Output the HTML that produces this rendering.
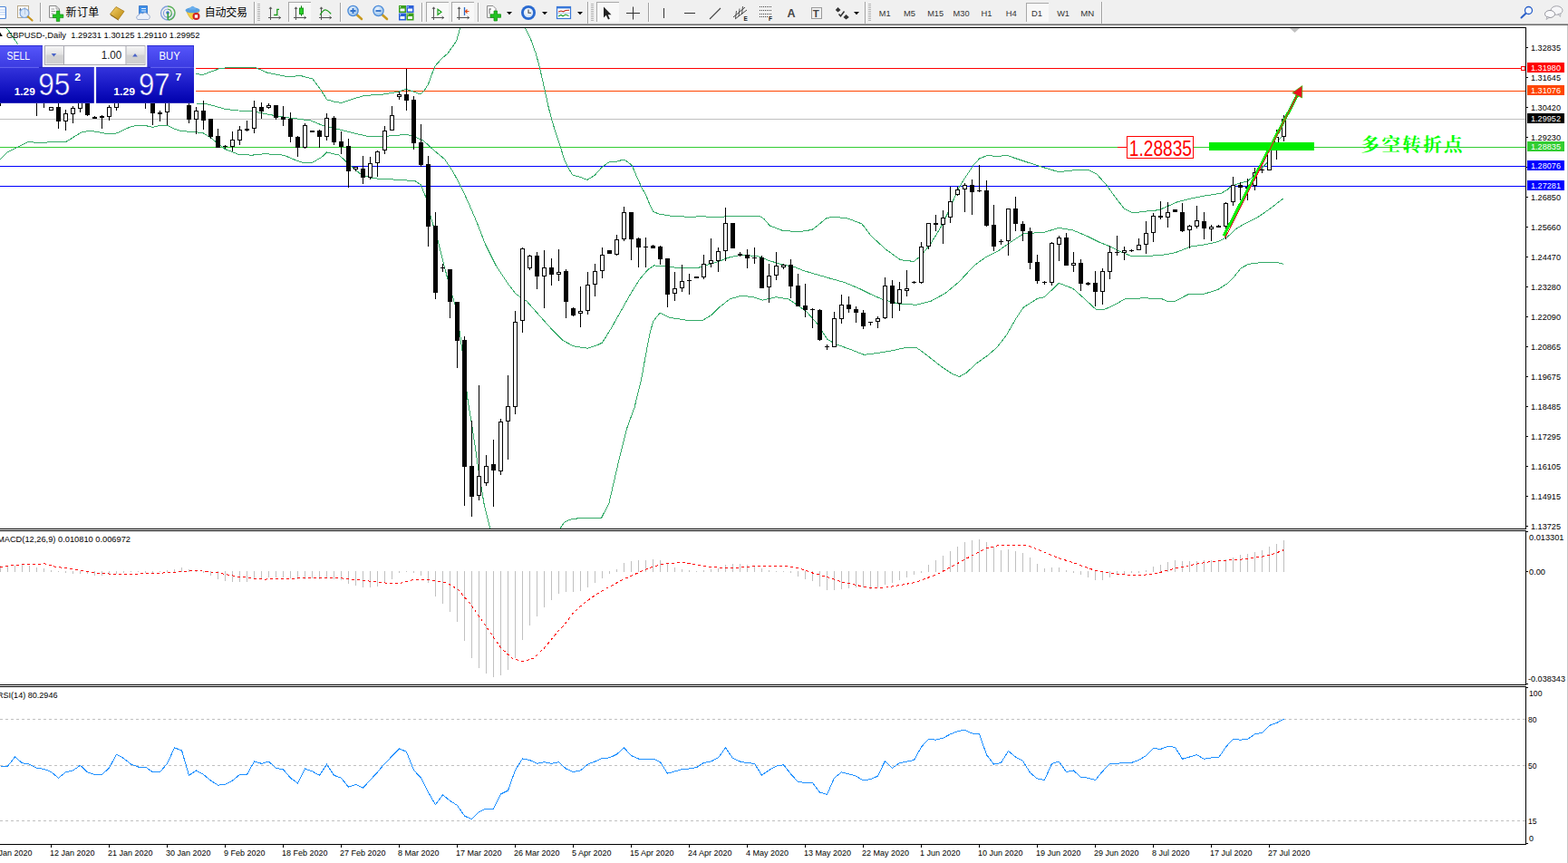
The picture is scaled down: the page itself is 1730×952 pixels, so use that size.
<!DOCTYPE html>
<html><head><meta charset="utf-8"><title>GBPUSD Daily</title>
<style>
html,body{margin:0;padding:0;background:#fff;}
body{width:1730px;height:952px;overflow:hidden;position:relative;font-family:"Liberation Sans",sans-serif;}
svg{position:absolute;left:0;top:0;display:block}
svg text{font-family:"Liberation Sans",sans-serif;white-space:pre}
.ce{shape-rendering:crispEdges}
</style></head><body>
<svg width="1730" height="952" viewBox="0 0 1730 952">
<defs>
<linearGradient id="gb1" x1="0" y1="0" x2="0" y2="1"><stop offset="0" stop-color="#5656fb"/><stop offset="1" stop-color="#3a3ae0"/></linearGradient>
<linearGradient id="gb2" x1="0" y1="0" x2="0" y2="1"><stop offset="0" stop-color="#3434dc"/><stop offset="0.55" stop-color="#1616c4"/><stop offset="1" stop-color="#0000ac"/></linearGradient>
<linearGradient id="gb2u" gradientUnits="userSpaceOnUse" x1="0" y1="74.4" x2="0" y2="113.8"><stop offset="0" stop-color="#3434dc"/><stop offset="0.55" stop-color="#1616c4"/><stop offset="1" stop-color="#0000ac"/></linearGradient>
<linearGradient id="gsp" x1="0" y1="0" x2="0" y2="1"><stop offset="0" stop-color="#f4f4f4"/><stop offset="0.45" stop-color="#e2e2e2"/><stop offset="0.5" stop-color="#d2d2d2"/><stop offset="1" stop-color="#cfcfcf"/></linearGradient>
<linearGradient id="gold" x1="0" y1="0" x2="1" y2="1"><stop offset="0" stop-color="#f6d26a"/><stop offset="1" stop-color="#b8860b"/></linearGradient>
<radialGradient id="lens" cx="0.4" cy="0.35" r="0.7"><stop offset="0" stop-color="#eef6ff"/><stop offset="1" stop-color="#8fbce8"/></radialGradient>
<radialGradient id="clk" cx="0.4" cy="0.35" r="0.7"><stop offset="0" stop-color="#ffffff"/><stop offset="1" stop-color="#cfe0f4"/></radialGradient>
</defs>
<rect width="1730" height="952" fill="#fff"/>

<g id="chart">
<g class="ce">
<rect x="0" y="75" width="1683" height="1" fill="#ff0000"/>
<rect x="0" y="100" width="1683" height="1" fill="#ff4500"/>
<rect x="0" y="131" width="1683" height="1" fill="#c0c0c0"/>
<rect x="0" y="162" width="1683" height="1" fill="#32cd32"/>
<rect x="0" y="183" width="1683" height="1" fill="#0000ff"/>
<rect x="0" y="205" width="1683" height="1" fill="#0000ff"/>
</g>
<polyline class="ce" fill="none" stroke="#34aa68" stroke-width="1" points="7.2,30.5 13,39 19.2,48 22,52"/>
<polyline class="ce" fill="none" stroke="#34aa68" stroke-width="1" points="216.4,81.5 224,82.5 233,79 242,75.8 252.5,74.5 282,74.5 294.5,80 306,82.5 317.6,84.6 332,83.6 345,87 353.4,98.3 360.7,109.8 368,112 376.5,113.4 390,109 401.7,105.6 412,104.8 422.7,104 432,102.5 440,101 448,98.2 456,101 464,104 468,100 472.4,93.2 476,83 480.3,72.6 487,65 493.5,59.4 499,52 503.8,44.7 507.6,31"/>
<polyline class="ce" fill="none" stroke="#34aa68" stroke-width="1" points="579.7,31 585.4,42.7 591.2,58.9 594.7,71.6 598.2,86.6 601.6,101.7 605.1,117.9 608.6,131.7 614.3,150.2 619,164.1 622.4,175.7 625.9,183.1 631.7,193 639.8,195.3 647.9,198.3 656,193.5 664,184.5 672.1,178.7 680.2,178.2 687.9,176.1 692.9,178.7 697.6,183.1 702.2,194.2 708,206.9 712.6,215 717.2,226.5 720.7,233.5 727.6,236.2 742.7,238.6 760,239.2 775.5,238.8 791.7,239.7 807.8,238.1 837.9,238.1 842.5,241.1 849.4,249 863.3,254.3 877.1,255.4 880,255.9 895.8,253.5 903,248 911.5,240.9 919.4,239.1 935.1,240.9 950.9,246.9 961.4,260.6 977.2,275 992.9,286.3 1000,287.8 1008.7,288.2 1016.6,281.6 1027,268.5 1037.6,251.4 1048,230.4 1056,210.7 1063.8,197.6 1074.3,181.8 1080.9,174.7 1090,171.3 1100,172.6 1110.5,171.3 1126.3,176.6 1142,181.8 1155.1,185.8 1168.3,189.7 1184,187.9 1199.8,187.1 1210.3,192.3 1220.8,204.1 1231.3,218.6 1240.5,230.4 1249.7,234.9 1265.4,233 1278.6,231.7 1289,227.2 1299.6,222.5 1315.3,218.8 1330.4,215.8 1347.2,213.3 1354,209.4 1359,204.9 1367.4,202.2 1375.8,200.2 1382.5,195.1 1388.2,189.2 1398.7,178.7 1402.9,164 1409.2,155.6 1416,149.3"/>
<polyline class="ce" fill="none" stroke="#34aa68" stroke-width="1" points="216.4,114 227,114.5 237,117 248,120.3 263,122 277.7,122.4 292.4,125.6 305,127.8 317.6,129.8 330,131.3 342.9,133 355.5,138.2 366,141 376.5,143.4 393.3,147.6 405.9,150.4 422.7,150.4 434.7,149.7 448,148.2 455.3,150 467,155 478.8,165.9 490.6,175.6 499.4,188.8 508.2,205 517,224 525.9,244.7 535.7,270 547.5,293.5 561,313.7 569.3,324.4 581,332.1 594.5,347.3 608,362.4 621.4,375.8 633,381.9 648.3,384.2 660,380.2 664.6,377.9 673.9,362.9 683.1,346.7 694.7,325.9 706.2,307.4 715.4,297 721.7,292.9 736.2,294.2 752.4,295.9 768.6,295.9 780.1,292.4 791.7,288.9 803.2,284.3 817.1,281.3 835.6,282.5 849.4,287.8 863.3,291.9 877.1,294.7 886,298.4 895.8,301.3 914.1,306.6 932.5,311.8 948.3,318.4 961.4,324.9 974.5,330.7 992.9,335.4 1011.3,336.2 1027,332.3 1042.8,323.6 1058.6,310.5 1074.3,293.4 1087.5,283.7 1100,277.7 1113,268.5 1128.9,258 1152.5,256.1 1168.3,251.4 1184,254 1199.8,260.6 1212.9,267.2 1226,272.4 1236.6,277.7 1247,282.1 1262.8,282.4 1281.2,281.6 1296.8,278.7 1313.6,272.1 1330.4,269.6 1343.9,266.6 1354,261.5 1364,252.3 1374,246.4 1387.6,239.7 1401,230.4 1415.8,219"/>
<polyline class="ce" fill="none" stroke="#34aa68" stroke-width="1" points="0,176.3 8.4,167.6 20,162 31,156.6 45,157.5 57,156.6 72,157 80.7,151.6 90.7,145.4 101,144.4 117.6,147.4 128.5,147 143,140.3 151,138.2 161,138.7 168.6,140.3 176.5,138.5 184.5,138.2 193,142.4 200,144.5 212.6,145.5 224,146.6 233.6,152.9 248.3,164.5 263,170.3 277.7,171.2 292.4,169.7 313.4,171.2 326,176.6 334.5,179.6 345,179.2 355.5,172.9 360.7,168 374.4,171.2 384.9,181.3 397.5,191.8 410,196.6 422.7,197.4 437.6,198.2 458,199.7 464,203.5 470,218 476,241.8 483,265 488,285 495.4,313.7 503.8,342.2 508,372 512.2,404.4 515.6,438 520.6,468.2 528,518.6 534,555.5 540.8,583"/>
<polyline class="ce" fill="none" stroke="#34aa68" stroke-width="1" points="618,583 623,575.7 631.5,572.3 648.3,571.3 663.4,571.6 671.8,555.5 681.9,511.8 692,471.5 700,449.7 707.4,419.5 712,394 716.6,369.8 720.5,354.8 728.1,345.1 738.5,350.2 757,353.2 775.5,353.2 784.7,347.8 794,338.6 805.5,329.8 817.1,326.4 830.9,327.5 841.3,331.2 856.4,327.7 870.2,330.1 879.4,336.3 890.5,344.6 901,356.4 912.8,374.3 922,379.6 937.8,385.3 953.5,391.4 969.3,389.3 985,386.6 1000.8,383.2 1011.3,383.5 1024.4,393.2 1037.6,403.7 1050.7,412.4 1058.6,415.5 1066.4,411.1 1077,401.1 1090,391.9 1100,383.2 1110.5,369.6 1121,351.2 1128.9,339.4 1144.6,329.4 1152.5,327.6 1168.3,312.3 1184,318.4 1197.2,330.2 1209,341.2 1216.9,342 1228.7,336.8 1241.8,329.4 1262.8,328.9 1281.2,329.4 1288.4,332.6 1296.8,332.1 1312,324.2 1328.7,324.2 1343.9,319.5 1354,312.8 1362.4,304.4 1369,296 1377.5,291.3 1391,289.6 1401,290 1409.4,289.6 1415.8,291.3"/>
<g class="ce" fill="#000">
<rect x="0" y="108" width="1" height="9"/>
<rect x="40" y="105" width="1" height="23"/>
<rect x="48" y="105" width="1" height="14"/>
<rect x="56" y="118" width="1" height="4"/>
<rect x="54" y="118" width="5" height="4"/>
<rect x="55" y="119" width="3" height="2" fill="#fff"/>
<rect x="64" y="108" width="1" height="34"/>
<rect x="62" y="118" width="5" height="16"/>
<rect x="72" y="121" width="1" height="23"/>
<rect x="70" y="125" width="5" height="9"/>
<rect x="71" y="126" width="3" height="7" fill="#fff"/>
<rect x="80" y="117" width="1" height="19"/>
<rect x="78" y="119" width="5" height="7"/>
<rect x="79" y="120" width="3" height="5" fill="#fff"/>
<rect x="88" y="106" width="1" height="18"/>
<rect x="86" y="106" width="5" height="14"/>
<rect x="87" y="107" width="3" height="12" fill="#fff"/>
<rect x="96" y="110" width="1" height="18"/>
<rect x="94" y="110" width="5" height="17"/>
<rect x="104" y="128" width="1" height="3"/>
<rect x="102" y="129" width="5" height="2"/>
<rect x="112" y="127" width="1" height="15"/>
<rect x="110" y="128" width="5" height="2"/>
<rect x="120" y="116" width="1" height="17"/>
<rect x="118" y="118" width="5" height="11"/>
<rect x="119" y="119" width="3" height="9" fill="#fff"/>
<rect x="128" y="106" width="1" height="16"/>
<rect x="126" y="106" width="5" height="13"/>
<rect x="127" y="107" width="3" height="11" fill="#fff"/>
<rect x="160" y="108" width="1" height="12"/>
<rect x="168" y="108" width="1" height="30"/>
<rect x="166" y="108" width="5" height="17"/>
<rect x="176" y="122" width="1" height="12"/>
<rect x="174" y="124" width="5" height="2"/>
<rect x="184" y="106" width="1" height="32"/>
<rect x="182" y="106" width="5" height="18"/>
<rect x="183" y="107" width="3" height="16" fill="#fff"/>
<rect x="208" y="112" width="1" height="24"/>
<rect x="206" y="116" width="5" height="16"/>
<rect x="216" y="118" width="1" height="30"/>
<rect x="214" y="122" width="5" height="10"/>
<rect x="215" y="123" width="3" height="8" fill="#fff"/>
<rect x="224" y="111" width="1" height="32"/>
<rect x="222" y="122" width="5" height="11"/>
<rect x="232" y="131" width="1" height="22"/>
<rect x="230" y="131" width="5" height="20"/>
<rect x="240" y="142" width="1" height="21"/>
<rect x="238" y="150" width="5" height="13"/>
<rect x="248" y="160" width="1" height="4"/>
<rect x="246" y="161" width="5" height="1"/>
<rect x="256" y="145" width="1" height="22"/>
<rect x="254" y="154" width="5" height="8"/>
<rect x="255" y="155" width="3" height="6" fill="#fff"/>
<rect x="264" y="139" width="1" height="21"/>
<rect x="262" y="143" width="5" height="12"/>
<rect x="263" y="144" width="3" height="10" fill="#fff"/>
<rect x="272" y="133" width="1" height="12"/>
<rect x="270" y="142" width="5" height="2"/>
<rect x="280" y="111" width="1" height="36"/>
<rect x="278" y="118" width="5" height="24"/>
<rect x="279" y="119" width="3" height="22" fill="#fff"/>
<rect x="288" y="113" width="1" height="18"/>
<rect x="286" y="118" width="5" height="5"/>
<rect x="296" y="114" width="1" height="6"/>
<rect x="294" y="116" width="5" height="3"/>
<rect x="295" y="117" width="3" height="1" fill="#fff"/>
<rect x="304" y="116" width="1" height="16"/>
<rect x="302" y="116" width="5" height="14"/>
<rect x="312" y="117" width="1" height="22"/>
<rect x="310" y="129" width="5" height="3"/>
<rect x="320" y="124" width="1" height="33"/>
<rect x="318" y="131" width="5" height="20"/>
<rect x="328" y="150" width="1" height="23"/>
<rect x="326" y="151" width="5" height="12"/>
<rect x="336" y="136" width="1" height="28"/>
<rect x="334" y="138" width="5" height="25"/>
<rect x="335" y="139" width="3" height="23" fill="#fff"/>
<rect x="344" y="144" width="1" height="2"/>
<rect x="342" y="144" width="5" height="2"/>
<rect x="352" y="143" width="1" height="20"/>
<rect x="350" y="144" width="5" height="7"/>
<rect x="360" y="125" width="1" height="30"/>
<rect x="358" y="130" width="5" height="21"/>
<rect x="359" y="131" width="3" height="19" fill="#fff"/>
<rect x="368" y="128" width="1" height="32"/>
<rect x="366" y="130" width="5" height="27"/>
<rect x="376" y="145" width="1" height="25"/>
<rect x="374" y="156" width="5" height="6"/>
<rect x="384" y="153" width="1" height="54"/>
<rect x="382" y="161" width="5" height="28"/>
<rect x="392" y="184" width="1" height="5"/>
<rect x="390" y="184" width="5" height="3"/>
<rect x="391" y="185" width="3" height="1" fill="#fff"/>
<rect x="400" y="172" width="1" height="31"/>
<rect x="398" y="186" width="5" height="10"/>
<rect x="408" y="173" width="1" height="25"/>
<rect x="406" y="180" width="5" height="16"/>
<rect x="407" y="181" width="3" height="14" fill="#fff"/>
<rect x="416" y="166" width="1" height="29"/>
<rect x="414" y="167" width="5" height="13"/>
<rect x="415" y="168" width="3" height="11" fill="#fff"/>
<rect x="424" y="139" width="1" height="31"/>
<rect x="422" y="144" width="5" height="22"/>
<rect x="423" y="145" width="3" height="20" fill="#fff"/>
<rect x="432" y="117" width="1" height="27"/>
<rect x="430" y="127" width="5" height="17"/>
<rect x="431" y="128" width="3" height="15" fill="#fff"/>
<rect x="440" y="101" width="1" height="9"/>
<rect x="438" y="104" width="5" height="3"/>
<rect x="439" y="105" width="3" height="1" fill="#fff"/>
<rect x="448" y="76" width="1" height="46"/>
<rect x="446" y="104" width="5" height="7"/>
<rect x="456" y="106" width="1" height="59"/>
<rect x="454" y="110" width="5" height="48"/>
<rect x="464" y="137" width="1" height="47"/>
<rect x="462" y="157" width="5" height="25"/>
<rect x="472" y="172" width="1" height="100"/>
<rect x="470" y="181" width="5" height="69"/>
<rect x="480" y="234" width="1" height="96"/>
<rect x="478" y="249" width="5" height="74"/>
<rect x="488" y="291" width="1" height="9"/>
<rect x="486" y="295" width="5" height="1"/>
<rect x="496" y="297" width="1" height="54"/>
<rect x="494" y="297" width="5" height="36"/>
<rect x="504" y="333" width="1" height="73"/>
<rect x="502" y="333" width="5" height="43"/>
<rect x="512" y="371" width="1" height="187"/>
<rect x="510" y="375" width="5" height="140"/>
<rect x="520" y="464" width="1" height="106"/>
<rect x="518" y="514" width="5" height="34"/>
<rect x="528" y="425" width="1" height="127"/>
<rect x="526" y="525" width="5" height="22"/>
<rect x="527" y="526" width="3" height="20" fill="#fff"/>
<rect x="536" y="502" width="1" height="34"/>
<rect x="534" y="514" width="5" height="19"/>
<rect x="535" y="515" width="3" height="17" fill="#fff"/>
<rect x="544" y="485" width="1" height="74"/>
<rect x="542" y="512" width="5" height="7"/>
<rect x="552" y="462" width="1" height="62"/>
<rect x="550" y="465" width="5" height="55"/>
<rect x="551" y="466" width="3" height="53" fill="#fff"/>
<rect x="560" y="414" width="1" height="93"/>
<rect x="558" y="448" width="5" height="17"/>
<rect x="559" y="449" width="3" height="15" fill="#fff"/>
<rect x="568" y="343" width="1" height="114"/>
<rect x="566" y="355" width="5" height="94"/>
<rect x="567" y="356" width="3" height="92" fill="#fff"/>
<rect x="576" y="273" width="1" height="94"/>
<rect x="574" y="274" width="5" height="80"/>
<rect x="575" y="275" width="3" height="78" fill="#fff"/>
<rect x="584" y="281" width="1" height="17"/>
<rect x="582" y="282" width="5" height="14"/>
<rect x="583" y="283" width="3" height="12" fill="#fff"/>
<rect x="592" y="278" width="1" height="41"/>
<rect x="590" y="282" width="5" height="23"/>
<rect x="600" y="276" width="1" height="64"/>
<rect x="598" y="295" width="5" height="10"/>
<rect x="599" y="296" width="3" height="8" fill="#fff"/>
<rect x="608" y="285" width="1" height="30"/>
<rect x="606" y="295" width="5" height="8"/>
<rect x="616" y="275" width="1" height="35"/>
<rect x="614" y="300" width="5" height="3"/>
<rect x="615" y="301" width="3" height="1" fill="#fff"/>
<rect x="624" y="297" width="1" height="54"/>
<rect x="622" y="299" width="5" height="34"/>
<rect x="632" y="339" width="1" height="10"/>
<rect x="630" y="340" width="5" height="8"/>
<rect x="640" y="316" width="1" height="45"/>
<rect x="638" y="343" width="5" height="3"/>
<rect x="639" y="344" width="3" height="1" fill="#fff"/>
<rect x="648" y="300" width="1" height="47"/>
<rect x="646" y="314" width="5" height="29"/>
<rect x="647" y="315" width="3" height="27" fill="#fff"/>
<rect x="656" y="291" width="1" height="36"/>
<rect x="654" y="299" width="5" height="15"/>
<rect x="655" y="300" width="3" height="13" fill="#fff"/>
<rect x="664" y="273" width="1" height="34"/>
<rect x="662" y="281" width="5" height="18"/>
<rect x="663" y="282" width="3" height="16" fill="#fff"/>
<rect x="672" y="276" width="1" height="4"/>
<rect x="670" y="276" width="5" height="4"/>
<rect x="680" y="259" width="1" height="23"/>
<rect x="678" y="264" width="5" height="17"/>
<rect x="679" y="265" width="3" height="15" fill="#fff"/>
<rect x="688" y="228" width="1" height="38"/>
<rect x="686" y="234" width="5" height="30"/>
<rect x="687" y="235" width="3" height="28" fill="#fff"/>
<rect x="696" y="234" width="1" height="53"/>
<rect x="694" y="234" width="5" height="30"/>
<rect x="704" y="262" width="1" height="33"/>
<rect x="702" y="263" width="5" height="10"/>
<rect x="712" y="262" width="1" height="33"/>
<rect x="710" y="272" width="5" height="1"/>
<rect x="720" y="270" width="1" height="4"/>
<rect x="718" y="271" width="5" height="3"/>
<rect x="728" y="271" width="1" height="21"/>
<rect x="726" y="272" width="5" height="14"/>
<rect x="736" y="285" width="1" height="54"/>
<rect x="734" y="285" width="5" height="40"/>
<rect x="744" y="300" width="1" height="32"/>
<rect x="742" y="318" width="5" height="6"/>
<rect x="743" y="319" width="3" height="4" fill="#fff"/>
<rect x="752" y="292" width="1" height="30"/>
<rect x="750" y="310" width="5" height="8"/>
<rect x="751" y="311" width="3" height="6" fill="#fff"/>
<rect x="760" y="302" width="1" height="23"/>
<rect x="758" y="309" width="5" height="1"/>
<rect x="768" y="305" width="1" height="2"/>
<rect x="766" y="305" width="5" height="2"/>
<rect x="776" y="281" width="1" height="27"/>
<rect x="774" y="291" width="5" height="15"/>
<rect x="775" y="292" width="3" height="13" fill="#fff"/>
<rect x="784" y="263" width="1" height="32"/>
<rect x="782" y="287" width="5" height="4"/>
<rect x="783" y="288" width="3" height="2" fill="#fff"/>
<rect x="792" y="273" width="1" height="27"/>
<rect x="790" y="277" width="5" height="11"/>
<rect x="791" y="278" width="3" height="9" fill="#fff"/>
<rect x="800" y="229" width="1" height="59"/>
<rect x="798" y="246" width="5" height="31"/>
<rect x="799" y="247" width="3" height="29" fill="#fff"/>
<rect x="808" y="246" width="1" height="28"/>
<rect x="806" y="246" width="5" height="28"/>
<rect x="816" y="278" width="1" height="5"/>
<rect x="814" y="280" width="5" height="2"/>
<rect x="824" y="275" width="1" height="21"/>
<rect x="822" y="281" width="5" height="4"/>
<rect x="832" y="273" width="1" height="18"/>
<rect x="830" y="284" width="5" height="1"/>
<rect x="840" y="282" width="1" height="36"/>
<rect x="838" y="284" width="5" height="34"/>
<rect x="848" y="291" width="1" height="43"/>
<rect x="846" y="304" width="5" height="13"/>
<rect x="847" y="305" width="3" height="11" fill="#fff"/>
<rect x="856" y="278" width="1" height="31"/>
<rect x="854" y="293" width="5" height="11"/>
<rect x="855" y="294" width="3" height="9" fill="#fff"/>
<rect x="864" y="291" width="1" height="6"/>
<rect x="862" y="292" width="5" height="3"/>
<rect x="863" y="293" width="3" height="1" fill="#fff"/>
<rect x="872" y="286" width="1" height="43"/>
<rect x="870" y="292" width="5" height="24"/>
<rect x="880" y="302" width="1" height="36"/>
<rect x="878" y="315" width="5" height="23"/>
<rect x="888" y="313" width="1" height="37"/>
<rect x="886" y="337" width="5" height="5"/>
<rect x="896" y="340" width="1" height="22"/>
<rect x="894" y="341" width="5" height="1"/>
<rect x="904" y="341" width="1" height="35"/>
<rect x="902" y="342" width="5" height="33"/>
<rect x="912" y="380" width="1" height="6"/>
<rect x="910" y="382" width="5" height="1"/>
<rect x="920" y="344" width="1" height="39"/>
<rect x="918" y="351" width="5" height="32"/>
<rect x="919" y="352" width="3" height="30" fill="#fff"/>
<rect x="928" y="325" width="1" height="32"/>
<rect x="926" y="336" width="5" height="16"/>
<rect x="927" y="337" width="3" height="14" fill="#fff"/>
<rect x="936" y="327" width="1" height="18"/>
<rect x="934" y="336" width="5" height="5"/>
<rect x="944" y="338" width="1" height="18"/>
<rect x="942" y="341" width="5" height="4"/>
<rect x="952" y="342" width="1" height="21"/>
<rect x="950" y="345" width="5" height="15"/>
<rect x="960" y="355" width="1" height="4"/>
<rect x="958" y="355" width="5" height="1"/>
<rect x="968" y="349" width="1" height="13"/>
<rect x="966" y="351" width="5" height="4"/>
<rect x="967" y="352" width="3" height="2" fill="#fff"/>
<rect x="976" y="306" width="1" height="46"/>
<rect x="974" y="315" width="5" height="36"/>
<rect x="975" y="316" width="3" height="34" fill="#fff"/>
<rect x="984" y="309" width="1" height="42"/>
<rect x="982" y="315" width="5" height="20"/>
<rect x="992" y="311" width="1" height="32"/>
<rect x="990" y="319" width="5" height="16"/>
<rect x="991" y="320" width="3" height="14" fill="#fff"/>
<rect x="1000" y="298" width="1" height="29"/>
<rect x="998" y="318" width="5" height="3"/>
<rect x="999" y="319" width="3" height="1" fill="#fff"/>
<rect x="1008" y="310" width="1" height="3"/>
<rect x="1006" y="311" width="5" height="1"/>
<rect x="1016" y="267" width="1" height="46"/>
<rect x="1014" y="272" width="5" height="40"/>
<rect x="1015" y="273" width="3" height="38" fill="#fff"/>
<rect x="1024" y="246" width="1" height="29"/>
<rect x="1022" y="246" width="5" height="26"/>
<rect x="1023" y="247" width="3" height="24" fill="#fff"/>
<rect x="1032" y="237" width="1" height="18"/>
<rect x="1030" y="246" width="5" height="2"/>
<rect x="1040" y="232" width="1" height="37"/>
<rect x="1038" y="240" width="5" height="8"/>
<rect x="1039" y="241" width="3" height="6" fill="#fff"/>
<rect x="1048" y="206" width="1" height="40"/>
<rect x="1046" y="222" width="5" height="18"/>
<rect x="1047" y="223" width="3" height="16" fill="#fff"/>
<rect x="1056" y="206" width="1" height="10"/>
<rect x="1054" y="209" width="5" height="6"/>
<rect x="1055" y="210" width="3" height="4" fill="#fff"/>
<rect x="1064" y="202" width="1" height="32"/>
<rect x="1062" y="204" width="5" height="5"/>
<rect x="1063" y="205" width="3" height="3" fill="#fff"/>
<rect x="1072" y="198" width="1" height="39"/>
<rect x="1070" y="204" width="5" height="8"/>
<rect x="1080" y="182" width="1" height="30"/>
<rect x="1078" y="210" width="5" height="1"/>
<rect x="1088" y="199" width="1" height="51"/>
<rect x="1086" y="210" width="5" height="39"/>
<rect x="1096" y="226" width="1" height="51"/>
<rect x="1094" y="248" width="5" height="24"/>
<rect x="1104" y="264" width="1" height="6"/>
<rect x="1102" y="266" width="5" height="1"/>
<rect x="1112" y="230" width="1" height="52"/>
<rect x="1110" y="230" width="5" height="36"/>
<rect x="1111" y="231" width="3" height="34" fill="#fff"/>
<rect x="1120" y="217" width="1" height="38"/>
<rect x="1118" y="230" width="5" height="17"/>
<rect x="1128" y="244" width="1" height="22"/>
<rect x="1126" y="247" width="5" height="8"/>
<rect x="1136" y="251" width="1" height="46"/>
<rect x="1134" y="255" width="5" height="35"/>
<rect x="1144" y="281" width="1" height="32"/>
<rect x="1142" y="289" width="5" height="21"/>
<rect x="1152" y="310" width="1" height="4"/>
<rect x="1150" y="311" width="5" height="1"/>
<rect x="1160" y="267" width="1" height="48"/>
<rect x="1158" y="268" width="5" height="44"/>
<rect x="1159" y="269" width="3" height="42" fill="#fff"/>
<rect x="1168" y="260" width="1" height="28"/>
<rect x="1166" y="262" width="5" height="8"/>
<rect x="1167" y="263" width="3" height="6" fill="#fff"/>
<rect x="1176" y="257" width="1" height="36"/>
<rect x="1174" y="262" width="5" height="31"/>
<rect x="1184" y="278" width="1" height="22"/>
<rect x="1182" y="290" width="5" height="3"/>
<rect x="1183" y="291" width="3" height="1" fill="#fff"/>
<rect x="1192" y="286" width="1" height="35"/>
<rect x="1190" y="290" width="5" height="23"/>
<rect x="1200" y="311" width="1" height="4"/>
<rect x="1198" y="312" width="5" height="2"/>
<rect x="1208" y="299" width="1" height="39"/>
<rect x="1206" y="312" width="5" height="10"/>
<rect x="1216" y="296" width="1" height="40"/>
<rect x="1214" y="299" width="5" height="23"/>
<rect x="1215" y="300" width="3" height="21" fill="#fff"/>
<rect x="1224" y="271" width="1" height="37"/>
<rect x="1222" y="278" width="5" height="22"/>
<rect x="1223" y="279" width="3" height="20" fill="#fff"/>
<rect x="1232" y="260" width="1" height="22"/>
<rect x="1230" y="278" width="5" height="1"/>
<rect x="1240" y="272" width="1" height="15"/>
<rect x="1238" y="276" width="5" height="3"/>
<rect x="1239" y="277" width="3" height="1" fill="#fff"/>
<rect x="1248" y="275" width="1" height="3"/>
<rect x="1246" y="276" width="5" height="1"/>
<rect x="1256" y="263" width="1" height="13"/>
<rect x="1254" y="270" width="5" height="6"/>
<rect x="1255" y="271" width="3" height="4" fill="#fff"/>
<rect x="1264" y="244" width="1" height="36"/>
<rect x="1262" y="257" width="5" height="13"/>
<rect x="1263" y="258" width="3" height="11" fill="#fff"/>
<rect x="1272" y="235" width="1" height="32"/>
<rect x="1270" y="238" width="5" height="19"/>
<rect x="1271" y="239" width="3" height="17" fill="#fff"/>
<rect x="1280" y="222" width="1" height="20"/>
<rect x="1278" y="238" width="5" height="2"/>
<rect x="1288" y="223" width="1" height="28"/>
<rect x="1286" y="234" width="5" height="6"/>
<rect x="1287" y="235" width="3" height="4" fill="#fff"/>
<rect x="1296" y="231" width="1" height="3"/>
<rect x="1294" y="231" width="5" height="3"/>
<rect x="1304" y="224" width="1" height="32"/>
<rect x="1302" y="234" width="5" height="21"/>
<rect x="1312" y="248" width="1" height="26"/>
<rect x="1310" y="249" width="5" height="5"/>
<rect x="1311" y="250" width="3" height="3" fill="#fff"/>
<rect x="1320" y="227" width="1" height="25"/>
<rect x="1318" y="243" width="5" height="7"/>
<rect x="1319" y="244" width="3" height="5" fill="#fff"/>
<rect x="1328" y="234" width="1" height="30"/>
<rect x="1326" y="244" width="5" height="8"/>
<rect x="1336" y="248" width="1" height="18"/>
<rect x="1334" y="250" width="5" height="3"/>
<rect x="1335" y="251" width="3" height="1" fill="#fff"/>
<rect x="1344" y="248" width="1" height="3"/>
<rect x="1342" y="249" width="5" height="2"/>
<rect x="1352" y="223" width="1" height="41"/>
<rect x="1350" y="224" width="5" height="26"/>
<rect x="1351" y="225" width="3" height="24" fill="#fff"/>
<rect x="1360" y="195" width="1" height="32"/>
<rect x="1358" y="204" width="5" height="19"/>
<rect x="1359" y="205" width="3" height="17" fill="#fff"/>
<rect x="1368" y="201" width="1" height="20"/>
<rect x="1366" y="204" width="5" height="3"/>
<rect x="1376" y="197" width="1" height="24"/>
<rect x="1374" y="206" width="5" height="2"/>
<rect x="1384" y="185" width="1" height="25"/>
<rect x="1382" y="190" width="5" height="15"/>
<rect x="1383" y="191" width="3" height="13" fill="#fff"/>
<rect x="1392" y="186" width="1" height="5"/>
<rect x="1390" y="187" width="5" height="1"/>
<rect x="1400" y="163" width="1" height="25"/>
<rect x="1398" y="164" width="5" height="24"/>
<rect x="1399" y="165" width="3" height="22" fill="#fff"/>
<rect x="1408" y="143" width="1" height="33"/>
<rect x="1406" y="151" width="5" height="14"/>
<rect x="1407" y="152" width="3" height="12" fill="#fff"/>
<rect x="1416" y="127" width="1" height="29"/>
<rect x="1414" y="131" width="5" height="20"/>
<rect x="1415" y="132" width="3" height="18" fill="#fff"/>
</g>
<rect class="ce" x="1334" y="157" width="116" height="9" fill="#00ee00"/>
<line class="ce" x1="1350.2" y1="260" x2="1431.2" y2="105.6" stroke="#00f000" stroke-width="3.2"/>
<line class="ce" x1="1351.6" y1="262.4" x2="1431.4" y2="104.8" stroke="#f01020" stroke-width="1"/>
<polygon points="1436.8,94.6 1425.8,102.4 1436.6,108" fill="#ec1020" stroke="#30c000" stroke-width="0.7"/>
<rect class="ce" x="1233" y="162" width="10" height="1" fill="#ff0000"/>
<rect x="1243.5" y="150.5" width="73" height="24" fill="#fff" stroke="#ff0000" stroke-width="1"/>
<text x="1245.8" y="171.7" font-size="23.4" fill="#ff0000" textLength="69.2" lengthAdjust="spacingAndGlyphs">1.28835</text>
<text x="1501.5" y="167.3" font-size="20.5" font-weight="bold" fill="#00ff00" textLength="112" lengthAdjust="spacing" style="font-family:'Liberation Serif','Noto Serif CJK SC',serif">多空转折点</text>
<polygon points="1423,31 1434,31 1428.5,36" fill="#c0c0c0"/>
<rect x="1678.5" y="73.5" width="4" height="4" fill="#fff" stroke="#ff0000" stroke-width="1" class="ce"/>
</g>
<g class="ce" fill="#c0c0c0">
<rect x="0" y="624" width="1" height="7"/>
<rect x="8" y="624" width="1" height="7"/>
<rect x="16" y="624" width="1" height="7"/>
<rect x="24" y="623" width="1" height="8"/>
<rect x="32" y="624" width="1" height="7"/>
<rect x="40" y="626" width="1" height="5"/>
<rect x="48" y="627" width="1" height="4"/>
<rect x="56" y="629" width="1" height="2"/>
<rect x="64" y="630" width="1" height="1"/>
<rect x="72" y="630" width="1" height="2"/>
<rect x="80" y="630" width="1" height="3"/>
<rect x="88" y="630" width="1" height="3"/>
<rect x="96" y="630" width="1" height="3"/>
<rect x="104" y="630" width="1" height="5"/>
<rect x="112" y="630" width="1" height="5"/>
<rect x="120" y="630" width="1" height="4"/>
<rect x="128" y="630" width="1" height="3"/>
<rect x="136" y="630" width="1" height="2"/>
<rect x="144" y="630" width="1" height="1"/>
<rect x="152" y="630" width="1" height="1"/>
<rect x="160" y="630" width="1" height="2"/>
<rect x="168" y="630" width="1" height="2"/>
<rect x="176" y="630" width="1" height="1"/>
<rect x="184" y="629" width="1" height="2"/>
<rect x="192" y="628" width="1" height="3"/>
<rect x="200" y="626" width="1" height="5"/>
<rect x="208" y="628" width="1" height="3"/>
<rect x="216" y="629" width="1" height="2"/>
<rect x="224" y="630" width="1" height="2"/>
<rect x="232" y="630" width="1" height="5"/>
<rect x="240" y="630" width="1" height="9"/>
<rect x="248" y="630" width="1" height="11"/>
<rect x="256" y="630" width="1" height="12"/>
<rect x="264" y="630" width="1" height="12"/>
<rect x="272" y="630" width="1" height="12"/>
<rect x="280" y="630" width="1" height="9"/>
<rect x="288" y="630" width="1" height="8"/>
<rect x="296" y="630" width="1" height="7"/>
<rect x="304" y="630" width="1" height="7"/>
<rect x="312" y="630" width="1" height="7"/>
<rect x="320" y="630" width="1" height="8"/>
<rect x="328" y="630" width="1" height="9"/>
<rect x="336" y="630" width="1" height="9"/>
<rect x="344" y="630" width="1" height="8"/>
<rect x="352" y="630" width="1" height="9"/>
<rect x="360" y="630" width="1" height="8"/>
<rect x="368" y="630" width="1" height="9"/>
<rect x="376" y="630" width="1" height="10"/>
<rect x="384" y="630" width="1" height="14"/>
<rect x="392" y="630" width="1" height="16"/>
<rect x="400" y="630" width="1" height="18"/>
<rect x="408" y="630" width="1" height="18"/>
<rect x="416" y="630" width="1" height="17"/>
<rect x="424" y="630" width="1" height="13"/>
<rect x="432" y="630" width="1" height="9"/>
<rect x="440" y="630" width="1" height="2"/>
<rect x="448" y="630" width="1" height="1"/>
<rect x="456" y="630" width="1" height="2"/>
<rect x="464" y="630" width="1" height="5"/>
<rect x="472" y="630" width="1" height="13"/>
<rect x="480" y="630" width="1" height="28"/>
<rect x="488" y="630" width="1" height="36"/>
<rect x="496" y="630" width="1" height="45"/>
<rect x="504" y="630" width="1" height="56"/>
<rect x="512" y="630" width="1" height="77"/>
<rect x="520" y="630" width="1" height="96"/>
<rect x="528" y="630" width="1" height="107"/>
<rect x="536" y="630" width="1" height="113"/>
<rect x="544" y="630" width="1" height="117"/>
<rect x="552" y="630" width="1" height="115"/>
<rect x="560" y="630" width="1" height="109"/>
<rect x="568" y="630" width="1" height="96"/>
<rect x="576" y="630" width="1" height="76"/>
<rect x="584" y="630" width="1" height="60"/>
<rect x="592" y="630" width="1" height="50"/>
<rect x="600" y="630" width="1" height="40"/>
<rect x="608" y="630" width="1" height="32"/>
<rect x="616" y="630" width="1" height="25"/>
<rect x="624" y="630" width="1" height="23"/>
<rect x="632" y="630" width="1" height="23"/>
<rect x="640" y="630" width="1" height="22"/>
<rect x="648" y="630" width="1" height="18"/>
<rect x="656" y="630" width="1" height="13"/>
<rect x="664" y="630" width="1" height="8"/>
<rect x="672" y="630" width="1" height="3"/>
<rect x="680" y="628" width="1" height="3"/>
<rect x="688" y="621" width="1" height="10"/>
<rect x="696" y="619" width="1" height="12"/>
<rect x="704" y="618" width="1" height="13"/>
<rect x="712" y="618" width="1" height="13"/>
<rect x="720" y="617" width="1" height="14"/>
<rect x="728" y="618" width="1" height="13"/>
<rect x="736" y="622" width="1" height="9"/>
<rect x="744" y="626" width="1" height="5"/>
<rect x="752" y="628" width="1" height="3"/>
<rect x="760" y="629" width="1" height="2"/>
<rect x="768" y="630" width="1" height="1"/>
<rect x="776" y="629" width="1" height="2"/>
<rect x="784" y="628" width="1" height="3"/>
<rect x="792" y="627" width="1" height="4"/>
<rect x="800" y="623" width="1" height="8"/>
<rect x="808" y="622" width="1" height="9"/>
<rect x="816" y="622" width="1" height="9"/>
<rect x="824" y="623" width="1" height="8"/>
<rect x="832" y="624" width="1" height="7"/>
<rect x="840" y="627" width="1" height="4"/>
<rect x="848" y="629" width="1" height="2"/>
<rect x="856" y="630" width="1" height="1"/>
<rect x="864" y="630" width="1" height="1"/>
<rect x="872" y="630" width="1" height="2"/>
<rect x="880" y="630" width="1" height="6"/>
<rect x="888" y="630" width="1" height="9"/>
<rect x="896" y="630" width="1" height="11"/>
<rect x="904" y="630" width="1" height="17"/>
<rect x="912" y="630" width="1" height="21"/>
<rect x="920" y="630" width="1" height="21"/>
<rect x="928" y="630" width="1" height="20"/>
<rect x="936" y="630" width="1" height="19"/>
<rect x="944" y="630" width="1" height="18"/>
<rect x="952" y="630" width="1" height="18"/>
<rect x="960" y="630" width="1" height="20"/>
<rect x="968" y="630" width="1" height="18"/>
<rect x="976" y="630" width="1" height="15"/>
<rect x="984" y="630" width="1" height="13"/>
<rect x="992" y="630" width="1" height="10"/>
<rect x="1000" y="630" width="1" height="7"/>
<rect x="1008" y="630" width="1" height="4"/>
<rect x="1016" y="630" width="1" height="2"/>
<rect x="1024" y="623" width="1" height="8"/>
<rect x="1032" y="618" width="1" height="13"/>
<rect x="1040" y="613" width="1" height="18"/>
<rect x="1048" y="608" width="1" height="23"/>
<rect x="1056" y="603" width="1" height="28"/>
<rect x="1064" y="598" width="1" height="33"/>
<rect x="1072" y="596" width="1" height="35"/>
<rect x="1080" y="595" width="1" height="36"/>
<rect x="1088" y="598" width="1" height="33"/>
<rect x="1096" y="603" width="1" height="28"/>
<rect x="1104" y="607" width="1" height="24"/>
<rect x="1112" y="606" width="1" height="25"/>
<rect x="1120" y="608" width="1" height="23"/>
<rect x="1128" y="610" width="1" height="21"/>
<rect x="1136" y="615" width="1" height="16"/>
<rect x="1144" y="622" width="1" height="9"/>
<rect x="1152" y="627" width="1" height="4"/>
<rect x="1160" y="626" width="1" height="5"/>
<rect x="1168" y="626" width="1" height="5"/>
<rect x="1176" y="629" width="1" height="2"/>
<rect x="1184" y="630" width="1" height="2"/>
<rect x="1192" y="630" width="1" height="4"/>
<rect x="1200" y="630" width="1" height="7"/>
<rect x="1208" y="630" width="1" height="10"/>
<rect x="1216" y="630" width="1" height="10"/>
<rect x="1224" y="630" width="1" height="7"/>
<rect x="1232" y="630" width="1" height="4"/>
<rect x="1240" y="630" width="1" height="3"/>
<rect x="1248" y="630" width="1" height="2"/>
<rect x="1256" y="630" width="1" height="2"/>
<rect x="1264" y="629" width="1" height="2"/>
<rect x="1272" y="625" width="1" height="6"/>
<rect x="1280" y="623" width="1" height="8"/>
<rect x="1288" y="620" width="1" height="11"/>
<rect x="1296" y="618" width="1" height="13"/>
<rect x="1304" y="619" width="1" height="12"/>
<rect x="1312" y="619" width="1" height="12"/>
<rect x="1320" y="619" width="1" height="12"/>
<rect x="1328" y="618" width="1" height="13"/>
<rect x="1336" y="618" width="1" height="13"/>
<rect x="1344" y="618" width="1" height="13"/>
<rect x="1352" y="617" width="1" height="14"/>
<rect x="1360" y="615" width="1" height="16"/>
<rect x="1368" y="612" width="1" height="19"/>
<rect x="1376" y="611" width="1" height="20"/>
<rect x="1384" y="609" width="1" height="22"/>
<rect x="1392" y="607" width="1" height="24"/>
<rect x="1400" y="603" width="1" height="28"/>
<rect x="1408" y="600" width="1" height="31"/>
<rect x="1416" y="596" width="1" height="35"/>
</g>
<polyline class="ce" fill="none" stroke="#ff0000" stroke-width="1" stroke-dasharray="3 3" points="0,626 16.6,623.3 50,621.9 61,625.2 80.5,628 111,632.7 138.7,633.6 177.6,632.2 216.4,629.4 238.6,631.6 263.6,636.3 291.3,639.1 319,638.3 346.8,637.2 374.6,637.7 402.3,640.5 427.3,643.3 440,643.8 453.9,640 472,639.4 492.7,642.7 505.2,650.2 520.5,668.2 536,690.4 552,714 564.9,726 576,729.8 588.4,726.5 600,715.4 616,696 624,687.7 632,676.6 642.6,666.9 655.9,657.1 672,647.4 689.7,638.3 706.4,630.8 720.2,625.2 734.1,621.6 753.5,620.5 767.4,622.5 786.8,625.8 807.9,626.6 832,624.7 867.3,624.7 881.2,626.6 895,631.6 912.5,636.5 931.2,642.7 959.3,648.4 978,648 1009.2,642.7 1034.2,633.4 1056,621.8 1074.8,611.5 1087.3,605.3 1102.9,601.2 1132.5,601.2 1146.6,606.8 1165.3,614.7 1187.2,621.8 1209,629.6 1230.9,633.4 1255.8,634.9 1274.6,632.8 1296.4,627.1 1315.1,623.1 1337,619.3 1368.2,617.2 1393.2,614 1405.7,610.9 1416,606.8"/>
<g class="ce" fill="#c0c0c0">
<line x1="0" y1="793.5" x2="1683" y2="793.5" stroke="#c0c0c0" stroke-width="1" stroke-dasharray="3 3"/>
<line x1="0" y1="844.5" x2="1683" y2="844.5" stroke="#c0c0c0" stroke-width="1" stroke-dasharray="3 3"/>
<line x1="0" y1="905.5" x2="1683" y2="905.5" stroke="#c0c0c0" stroke-width="1" stroke-dasharray="3 3"/>
</g>
<polyline class="ce" fill="none" stroke="#1e90ff" stroke-width="1" points="0.5,845.2 8.5,845.2 16.5,835 24.5,841.7 32.5,843.1 40.5,847.2 48.5,848.3 56.5,851.5 64.5,858.2 72.5,851.8 80.5,850 88.5,844.3 96.5,851.8 104.5,854.4 112.5,854.4 120.5,847.2 128.5,832.1 136.5,836.5 144.5,843.1 152.5,846 160.5,846 168.5,851.8 176.5,851.8 184.5,842.3 192.5,824.9 200.5,827.8 208.5,855.3 216.5,850 224.5,854.4 232.5,861 240.5,866.2 248.5,865.4 256.5,861 264.5,854.4 272.5,854.4 280.5,840 288.5,842.3 296.5,840.2 304.5,847.2 312.5,848.9 320.5,858.2 328.5,863.9 336.5,848 344.5,850.9 352.5,855.3 360.5,843.1 368.5,855.3 376.5,858.2 384.5,868.3 392.5,865.4 400.5,869.1 408.5,860.5 416.5,851.8 424.5,842.3 432.5,834.2 440.5,825.8 448.5,829.3 456.5,849.5 464.5,858.2 472.5,874 480.5,887.6 488.5,876.9 496.5,883.3 504.5,888.5 512.5,900 520.5,903.8 528.5,895.7 536.5,892 544.5,892 552.5,876 560.5,872 568.5,849.5 576.5,837 584.5,838.5 592.5,842.3 600.5,840.8 608.5,842.3 616.5,840.8 624.5,848 632.5,851.5 640.5,850 648.5,843.1 656.5,840 664.5,836.5 672.5,835.9 680.5,832.1 688.5,824.9 696.5,833.6 704.5,837 712.5,837 720.5,837 728.5,840.8 736.5,853.2 744.5,850.9 752.5,848.6 760.5,848 768.5,846.6 776.5,841.4 784.5,840 792.5,835.9 800.5,824.9 808.5,836.5 816.5,840 824.5,841.7 832.5,842.3 840.5,855.3 848.5,849.5 856.5,845.1 864.5,843.7 872.5,853.8 880.5,862.5 888.5,863.4 896.5,863.4 904.5,874 912.5,876.4 920.5,858.2 928.5,851.8 936.5,853.8 944.5,856.1 952.5,861 960.5,859.6 968.5,856.1 976.5,839.4 984.5,847.2 992.5,841.7 1000.5,840.2 1008.5,838.5 1016.5,824 1024.5,815.4 1032.5,816.2 1040.5,814.2 1048.5,809.9 1056.5,806.7 1064.5,805.3 1072.5,809 1080.5,809.6 1088.5,832.7 1096.5,843.1 1104.5,841.4 1112.5,828.4 1120.5,835 1128.5,839.4 1136.5,852.4 1144.5,859 1152.5,860.5 1160.5,842.3 1168.5,840.2 1176.5,851.5 1184.5,850 1192.5,857.3 1200.5,858.2 1208.5,860.5 1216.5,850.9 1224.5,842.3 1232.5,842.3 1240.5,841.4 1248.5,841.4 1256.5,838.5 1264.5,833.6 1272.5,825.5 1280.5,826.4 1288.5,823.5 1296.5,824.3 1304.5,837.3 1312.5,835 1320.5,832.7 1328.5,837.3 1336.5,835.9 1344.5,835.9 1352.5,824 1360.5,815.4 1368.5,816.2 1376.5,815.4 1384.5,809.9 1392.5,808.4 1400.5,800.4 1408.5,797.5 1416.5,793.1"/>
<g class="ce" fill="#000">
<rect x="0" y="30" width="1684" height="1"/>
<rect x="0" y="583" width="1684" height="1"/>
<rect x="0" y="585" width="1684" height="1"/>
<rect x="0" y="755" width="1684" height="1"/>
<rect x="0" y="757" width="1684" height="1"/>
<rect x="0" y="931" width="1684" height="1"/>
<rect x="1683" y="30" width="1" height="554"/>
<rect x="1683" y="585" width="1" height="171"/>
<rect x="1683" y="757" width="1" height="175"/>
<rect x="1684" y="52" width="2" height="1"/>
<rect x="1684" y="85" width="2" height="1"/>
<rect x="1684" y="118" width="2" height="1"/>
<rect x="1684" y="151" width="2" height="1"/>
<rect x="1684" y="184" width="2" height="1"/>
<rect x="1684" y="217" width="2" height="1"/>
<rect x="1684" y="250" width="2" height="1"/>
<rect x="1684" y="283" width="2" height="1"/>
<rect x="1684" y="316" width="2" height="1"/>
<rect x="1684" y="349" width="2" height="1"/>
<rect x="1684" y="382" width="2" height="1"/>
<rect x="1684" y="415" width="2" height="1"/>
<rect x="1684" y="448" width="2" height="1"/>
<rect x="1684" y="481" width="2" height="1"/>
<rect x="1684" y="514" width="2" height="1"/>
<rect x="1684" y="547" width="2" height="1"/>
<rect x="1684" y="580" width="2" height="1"/>
<rect x="1684" y="586" width="2" height="1"/>
<rect x="1684" y="630" width="2" height="1"/>
<rect x="1684" y="754" width="2" height="1"/>
<rect x="1684" y="758" width="2" height="1"/>
<rect x="1684" y="930" width="2" height="1"/>
<rect x="56" y="932" width="1" height="3"/>
<rect x="120" y="932" width="1" height="3"/>
<rect x="184" y="932" width="1" height="3"/>
<rect x="248" y="932" width="1" height="3"/>
<rect x="312" y="932" width="1" height="3"/>
<rect x="376" y="932" width="1" height="3"/>
<rect x="440" y="932" width="1" height="3"/>
<rect x="504" y="932" width="1" height="3"/>
<rect x="568" y="932" width="1" height="3"/>
<rect x="632" y="932" width="1" height="3"/>
<rect x="696" y="932" width="1" height="3"/>
<rect x="760" y="932" width="1" height="3"/>
<rect x="824" y="932" width="1" height="3"/>
<rect x="888" y="932" width="1" height="3"/>
<rect x="952" y="932" width="1" height="3"/>
<rect x="1016" y="932" width="1" height="3"/>
<rect x="1080" y="932" width="1" height="3"/>
<rect x="1144" y="932" width="1" height="3"/>
<rect x="1208" y="932" width="1" height="3"/>
<rect x="1272" y="932" width="1" height="3"/>
<rect x="1336" y="932" width="1" height="3"/>
<rect x="1400" y="932" width="1" height="3"/>
</g>
<text x="1689" y="55.5" font-size="9" fill="#000" textLength="33" lengthAdjust="spacingAndGlyphs">1.32835</text>
<text x="1689" y="88.5" font-size="9" fill="#000" textLength="33" lengthAdjust="spacingAndGlyphs">1.31645</text>
<text x="1689" y="121.5" font-size="9" fill="#000" textLength="33" lengthAdjust="spacingAndGlyphs">1.30420</text>
<text x="1689" y="154.5" font-size="9" fill="#000" textLength="33" lengthAdjust="spacingAndGlyphs">1.29230</text>
<text x="1689" y="187.5" font-size="9" fill="#000" textLength="33" lengthAdjust="spacingAndGlyphs">1.28040</text>
<text x="1689" y="220.5" font-size="9" fill="#000" textLength="33" lengthAdjust="spacingAndGlyphs">1.26850</text>
<text x="1689" y="253.5" font-size="9" fill="#000" textLength="33" lengthAdjust="spacingAndGlyphs">1.25660</text>
<text x="1689" y="286.5" font-size="9" fill="#000" textLength="33" lengthAdjust="spacingAndGlyphs">1.24470</text>
<text x="1689" y="319.5" font-size="9" fill="#000" textLength="33" lengthAdjust="spacingAndGlyphs">1.23280</text>
<text x="1689" y="352.5" font-size="9" fill="#000" textLength="33" lengthAdjust="spacingAndGlyphs">1.22090</text>
<text x="1689" y="385.5" font-size="9" fill="#000" textLength="33" lengthAdjust="spacingAndGlyphs">1.20865</text>
<text x="1689" y="418.5" font-size="9" fill="#000" textLength="33" lengthAdjust="spacingAndGlyphs">1.19675</text>
<text x="1689" y="451.5" font-size="9" fill="#000" textLength="33" lengthAdjust="spacingAndGlyphs">1.18485</text>
<text x="1689" y="484.5" font-size="9" fill="#000" textLength="33" lengthAdjust="spacingAndGlyphs">1.17295</text>
<text x="1689" y="517.5" font-size="9" fill="#000" textLength="33" lengthAdjust="spacingAndGlyphs">1.16105</text>
<text x="1689" y="550.5" font-size="9" fill="#000" textLength="33" lengthAdjust="spacingAndGlyphs">1.14915</text>
<text x="1689" y="583.5" font-size="9" fill="#000" textLength="33" lengthAdjust="spacingAndGlyphs">1.13725</text>
<g class="ce">
<rect x="1685" y="69" width="41" height="11" fill="#ff0000"/>
<rect x="1685" y="94" width="41" height="11" fill="#ff4500"/>
<rect x="1685" y="125" width="41" height="11" fill="#000000"/>
<rect x="1685" y="156" width="41" height="11" fill="#32cd32"/>
<rect x="1685" y="177" width="41" height="11" fill="#0000ff"/>
<rect x="1685" y="199" width="41" height="11" fill="#0000ff"/>
</g>
<text x="1689" y="78.3" font-size="9" fill="#fff" textLength="33" lengthAdjust="spacingAndGlyphs">1.31980</text>
<text x="1689" y="103.3" font-size="9" fill="#fff" textLength="33" lengthAdjust="spacingAndGlyphs">1.31076</text>
<text x="1689" y="134.3" font-size="9" fill="#fff" textLength="33" lengthAdjust="spacingAndGlyphs">1.29952</text>
<text x="1689" y="165.3" font-size="9" fill="#fff" textLength="33" lengthAdjust="spacingAndGlyphs">1.28835</text>
<text x="1689" y="186.3" font-size="9" fill="#fff" textLength="33" lengthAdjust="spacingAndGlyphs">1.28076</text>
<text x="1689" y="208.3" font-size="9" fill="#fff" textLength="33" lengthAdjust="spacingAndGlyphs">1.27281</text>
<text x="1687" y="595.5" font-size="9" fill="#000" textLength="38.5" lengthAdjust="spacingAndGlyphs">0.013301</text>
<text x="1687" y="633.5" font-size="9" fill="#000" textLength="18" lengthAdjust="spacingAndGlyphs">0.00</text>
<text x="1686" y="752" font-size="9" fill="#000" textLength="41" lengthAdjust="spacingAndGlyphs">-0.038343</text>
<text x="1687" y="768" font-size="9" fill="#000" textLength="14.5" lengthAdjust="spacingAndGlyphs">100</text>
<text x="1686" y="796.5" font-size="9" fill="#000" textLength="9.5" lengthAdjust="spacingAndGlyphs">80</text>
<text x="1686" y="847.5" font-size="9" fill="#000" textLength="9.5" lengthAdjust="spacingAndGlyphs">50</text>
<text x="1686" y="908.5" font-size="9" fill="#000" textLength="9.5" lengthAdjust="spacingAndGlyphs">15</text>
<text x="1687" y="927.5" font-size="9" fill="#000">0</text>
<text x="-3" y="597.5" font-size="9" fill="#000" textLength="147" lengthAdjust="spacingAndGlyphs">MACD(12,26,9) 0.010810 0.006972</text>
<text x="-3" y="769.5" font-size="9" fill="#000" textLength="66.5" lengthAdjust="spacingAndGlyphs">RSI(14) 80.2946</text>
<text x="-9" y="943.8" font-size="9" fill="#000">3 Jan 2020</text>
<text x="55" y="943.8" font-size="9" fill="#000">12 Jan 2020</text>
<text x="119" y="943.8" font-size="9" fill="#000">21 Jan 2020</text>
<text x="183" y="943.8" font-size="9" fill="#000">30 Jan 2020</text>
<text x="247" y="943.8" font-size="9" fill="#000">9 Feb 2020</text>
<text x="311" y="943.8" font-size="9" fill="#000">18 Feb 2020</text>
<text x="375" y="943.8" font-size="9" fill="#000">27 Feb 2020</text>
<text x="439" y="943.8" font-size="9" fill="#000">8 Mar 2020</text>
<text x="503" y="943.8" font-size="9" fill="#000">17 Mar 2020</text>
<text x="567" y="943.8" font-size="9" fill="#000">26 Mar 2020</text>
<text x="631" y="943.8" font-size="9" fill="#000">5 Apr 2020</text>
<text x="695" y="943.8" font-size="9" fill="#000">15 Apr 2020</text>
<text x="759" y="943.8" font-size="9" fill="#000">24 Apr 2020</text>
<text x="823" y="943.8" font-size="9" fill="#000">4 May 2020</text>
<text x="887" y="943.8" font-size="9" fill="#000">13 May 2020</text>
<text x="951" y="943.8" font-size="9" fill="#000">22 May 2020</text>
<text x="1015" y="943.8" font-size="9" fill="#000">1 Jun 2020</text>
<text x="1079" y="943.8" font-size="9" fill="#000">10 Jun 2020</text>
<text x="1143" y="943.8" font-size="9" fill="#000">19 Jun 2020</text>
<text x="1207" y="943.8" font-size="9" fill="#000">29 Jun 2020</text>
<text x="1271" y="943.8" font-size="9" fill="#000">8 Jul 2020</text>
<text x="1335" y="943.8" font-size="9" fill="#000">17 Jul 2020</text>
<text x="1399" y="943.8" font-size="9" fill="#000">27 Jul 2020</text>
<text x="7" y="41.5" font-size="9" fill="#000" textLength="213.5" lengthAdjust="spacingAndGlyphs">GBPUSD-,Daily  1.29231 1.30125 1.29110 1.29952</text>
<polygon points="0,40 0,35.5 2.8,40" fill="#000"/>
<g id="panel">
<rect x="0" y="49" width="216" height="65" fill="#fff"/>
<rect x="0" y="50" width="46.6" height="24.6" fill="url(#gb1)"/>
<rect x="162.6" y="50" width="51.4" height="24.6" fill="url(#gb1)"/>
<rect x="0" y="50" width="46.6" height="1" fill="#2a2ad0"/><rect x="45.8" y="50" width="0.8" height="24" fill="#2a2ad0"/>
<rect x="162.6" y="50" width="51.4" height="1" fill="#2a2ad0"/><rect x="162.6" y="50" width="0.8" height="24" fill="#2a2ad0"/><rect x="213.2" y="50" width="0.8" height="24" fill="#2a2ad0"/>
<rect x="0" y="74.4" width="103.8" height="39.4" fill="url(#gb2u)"/>
<rect x="106.1" y="74.4" width="107.9" height="39.4" fill="url(#gb2u)"/>
<rect x="0" y="73.9" width="43" height="0.9" fill="#6464f0"/><rect x="43" y="73.9" width="60.8" height="0.9" fill="#1c1cb8"/>
<rect x="166" y="73.9" width="44" height="0.9" fill="#6464f0"/><rect x="106.1" y="73.9" width="60" height="0.9" fill="#1c1cb8"/>
<rect x="49.5" y="50.5" width="110.5" height="21" fill="#fff" stroke="#a8a8b0" stroke-width="1"/>
<rect x="50.5" y="51.5" width="19.5" height="19" fill="url(#gsp)"/><rect x="70" y="51" width="1" height="20" fill="#a8a8b0"/>
<rect x="139.5" y="51.5" width="20" height="19" fill="url(#gsp)"/><rect x="138.5" y="51" width="1" height="20" fill="#a8a8b0"/>
<polygon points="56.6,59 62.2,59 59.4,62.4" fill="#4a64c8"/>
<polygon points="146.2,62.4 151.8,62.4 149,59" fill="#4a64c8"/>
<text x="111.7" y="64.8" font-size="12" fill="#202020" textLength="22.6" lengthAdjust="spacingAndGlyphs">1.00</text>
<text x="7.6" y="65.8" font-size="12" fill="#fff" textLength="25.6" lengthAdjust="spacingAndGlyphs">SELL</text>
<text x="175.5" y="65.6" font-size="12" fill="#fff" textLength="23.2" lengthAdjust="spacingAndGlyphs">BUY</text>
<text x="15.7" y="104.6" font-size="11.5" fill="#fff" font-weight="bold" textLength="23.2" lengthAdjust="spacingAndGlyphs">1.29</text>
<text x="42.2" y="105.2" font-size="35" fill="#fff" textLength="35.2" lengthAdjust="spacingAndGlyphs" stroke="url(#gb2u)" stroke-width="0.5">95</text>
<text x="82.2" y="88.7" font-size="11.5" fill="#fff" font-weight="bold" textLength="6.8" lengthAdjust="spacingAndGlyphs">2</text>
<text x="125.3" y="104.6" font-size="11.5" fill="#fff" font-weight="bold" textLength="23.8" lengthAdjust="spacingAndGlyphs">1.29</text>
<text x="152.9" y="105.2" font-size="35" fill="#fff" textLength="34.6" lengthAdjust="spacingAndGlyphs" stroke="url(#gb2u)" stroke-width="0.5">97</text>
<text x="193.4" y="88.7" font-size="11.5" fill="#fff" font-weight="bold" textLength="6.6" lengthAdjust="spacingAndGlyphs">7</text>
</g>
<g id="toolbar">
<rect x="0" y="0" width="1730" height="26" fill="#f0f0f0"/>
<rect x="0" y="26" width="1730" height="1" fill="#a6a6a6"/><rect x="0" y="27" width="1730" height="1" fill="#6c6c6c"/><rect x="0" y="28" width="1730" height="2" fill="#fbfbfb"/>
<rect x="1729" y="28" width="1" height="924" fill="#c8c8c8"/>
<rect x="-3" y="7.5" width="9.4" height="13" fill="#fff" stroke="#4f86d8" stroke-width="1.2" rx="1"/><path d="M-2 11H6M-2 13.5H6M-2 16H6" stroke="#a8c4f0" stroke-width="0.8"/>
<rect x="19.5" y="6.5" width="12" height="13" fill="#fdfdfd" stroke="#b8a888" stroke-width="1"/><path d="M22.5 9V17M27.5 8.5V16" stroke="#606878" stroke-width="1"/><path d="M21 11H24M26 10.5H29.5" stroke="#606878" stroke-width="0.8"/>
<circle cx="27" cy="14.5" r="5" fill="#cfe2f8" fill-opacity="0.8" stroke="#7fa8e0" stroke-width="1.2"/><path d="M31 18.5L35.5 22.5" stroke="#c8941c" stroke-width="2.2" stroke-linecap="round"/>
<rect class="ce" x="44" y="3" width="1" height="21" fill="#a0a0a0"/><rect class="ce" x="45" y="3" width="1" height="21" fill="#fdfdfd"/>
<path d="M54.5 6.5H62L65.5 10V19.5H54.5Z" fill="#fdfdfd" stroke="#8a8a8a" stroke-width="1"/><path d="M62 6.5V10H65.5" fill="none" stroke="#8a8a8a" stroke-width="0.8"/><path d="M56.5 10H60M56.5 12.5H61M56.5 15H59" stroke="#909090" stroke-width="0.9"/>
<path d="M62.3 12H65.8V16H69.8V19.6H65.8V23.6H62.3V19.6H58.3V16H62.3Z" fill="#22c322" stroke="#0a8a0a" stroke-width="0.7"/>
<text x="72.6" y="17.6" font-size="12" fill="#000" textLength="36.6" lengthAdjust="spacing" style="font-family:'Liberation Sans','Noto Sans CJK SC',sans-serif">新订单</text>
<path d="M121.5 15.5L128 7.5L137 12.5L130.5 21.5Z" fill="url(#gold)" stroke="#a87a14" stroke-width="0.8"/><path d="M121.5 15.5L130.5 21.5L131 22.8L122 17Z" fill="#8a6410"/>
<path d="M153.5 6.5H162.5V17H153.5Z" fill="#3d8fe8" stroke="#2a6cc4" stroke-width="0.8"/><path d="M156 9.5H161M156 12H161" stroke="#e8f2ff" stroke-width="1.2"/><path d="M152 21.5H163.5A3 3 0 0 0 163 15.8A3.2 3.2 0 0 0 157.6 15A3 3 0 0 0 153 16.8A2.5 2.5 0 0 0 152 21.5Z" fill="#eef2fa" stroke="#8aa0c8" stroke-width="0.8"/>
<g fill="none"><path d="M185 7A7.5 7.5 0 1 0 192.5 14.5" stroke="#7f9fdc" stroke-width="1.3"/><path d="M185 10A4.6 4.6 0 1 0 189.6 14.6" stroke="#7f9fdc" stroke-width="1.2"/><path d="M185 7A7.5 7.5 0 0 1 186 22" stroke="#58b058" stroke-width="1.4"/><path d="M185 10.2A4.5 4.5 0 0 1 186 19" stroke="#58b058" stroke-width="1.2"/></g><circle cx="185" cy="14" r="1.8" fill="#3b6fd0"/><path d="M185.3 14V22" stroke="#2e9e3e" stroke-width="1.6"/>
<path d="M206 13L220 12.5L212.5 21.5Q209.5 21 206 13Z" fill="#f6d040" stroke="#c8a020" stroke-width="0.6"/><ellipse cx="212.5" cy="11.3" rx="8" ry="3" fill="#58a0e0"/><path d="M208.5 10.5Q212.5 3 216.5 10.5Z" fill="#6cb0ee"/><circle cx="216.5" cy="18" r="4" fill="#d02020"/><rect x="214.8" y="16.3" width="3.4" height="3.4" fill="#fff"/>
<text x="225.7" y="17.6" font-size="12" fill="#000" textLength="47.4" lengthAdjust="spacing" style="font-family:'Liberation Sans','Noto Sans CJK SC',sans-serif">自动交易</text>
<rect class="ce" x="280" y="2" width="1" height="24" fill="#a0a0a0"/><rect class="ce" x="281" y="2" width="1" height="24" fill="#fdfdfd"/>
<g class="ce" fill="#b4b4b4"><rect x="284" y="4" width="3" height="1"/><rect x="284" y="6" width="3" height="1"/><rect x="284" y="8" width="3" height="1"/><rect x="284" y="10" width="3" height="1"/><rect x="284" y="12" width="3" height="1"/><rect x="284" y="14" width="3" height="1"/><rect x="284" y="16" width="3" height="1"/><rect x="284" y="18" width="3" height="1"/><rect x="284" y="20" width="3" height="1"/><rect x="284" y="22" width="3" height="1"/></g>
<g class="ce" fill="#555"><rect x="298" y="8" width="1" height="14"/><rect x="296" y="19" width="14" height="1"/></g>
<path d="M297 10L298.5 7.8L300 10M307.5 18L309.7 19.5L307.5 21" fill="none" stroke="#555" stroke-width="0.9"/>
<path d="M305.8 9.8V17.2M305.8 10.4H308M302.2 16.5H305.8" stroke="#1a9a1a" stroke-width="1.3" fill="none"/>
<rect x="318" y="2" width="25" height="22" fill="#f8f8f8"/>
<rect class="ce" x="318" y="2" width="25" height="1" fill="#a8a8a8"/><rect class="ce" x="318" y="2" width="1" height="22" fill="#a8a8a8"/>
<g class="ce" fill="#555"><rect x="326" y="8" width="1" height="14"/><rect x="324" y="19" width="14" height="1"/></g>
<path d="M325 10L326.5 7.8L328 10M335.5 18L337.7 19.5L335.5 21" fill="none" stroke="#555" stroke-width="0.9"/>
<path d="M332.5 6.4V17.6" stroke="#0a7a0a" stroke-width="1"/><rect x="330.4" y="9" width="4.2" height="6.4" fill="#2ad02a" stroke="#0a8a0a" stroke-width="0.8"/>
<g class="ce" fill="#555"><rect x="354" y="8" width="1" height="14"/><rect x="352" y="19" width="14" height="1"/></g>
<path d="M353 10L354.5 7.8L356 10M363.5 18L365.7 19.5L363.5 21" fill="none" stroke="#555" stroke-width="0.9"/>
<path d="M353 16.5Q357 10.5 359.5 11T365.2 15.4" stroke="#1a9a1a" stroke-width="1.2" fill="none"/>
<rect class="ce" x="375" y="3" width="1" height="21" fill="#a0a0a0"/><rect class="ce" x="376" y="3" width="1" height="21" fill="#fdfdfd"/>
<path d="M394.0 16.5L399.0 21" stroke="#c89a20" stroke-width="2.6" stroke-linecap="round"/>
<circle cx="389.5" cy="12" r="5.6" fill="url(#lens)" stroke="#4a8ad8" stroke-width="1.3"/>
<path d="M386.5 12H392.5M389.5 9V15" stroke="#2f6fc8" stroke-width="1.8"/>
<path d="M422.0 16.5L427.0 21" stroke="#c89a20" stroke-width="2.6" stroke-linecap="round"/>
<circle cx="417.5" cy="12" r="5.6" fill="url(#lens)" stroke="#4a8ad8" stroke-width="1.3"/>
<path d="M414.5 12H420.5" stroke="#2f6fc8" stroke-width="1.8"/>
<rect x="440" y="6" width="8" height="8" fill="#3aa01a"/><rect x="441.5" y="9.5" width="5" height="3" fill="#f4f8ff"/><rect x="441" y="7" width="1.2" height="1.2" fill="#e0ecff"/>
<rect x="448.5" y="6" width="8" height="8" fill="#2a5fd8"/><rect x="450.0" y="9.5" width="5" height="3" fill="#f4f8ff"/><rect x="449.5" y="7" width="1.2" height="1.2" fill="#e0ecff"/>
<rect x="440" y="14.5" width="8" height="8" fill="#2a5fd8"/><rect x="441.5" y="18.0" width="5" height="3" fill="#f4f8ff"/><rect x="441" y="15.5" width="1.2" height="1.2" fill="#e0ecff"/>
<rect x="448.5" y="14.5" width="8" height="8" fill="#3aa01a"/><rect x="450.0" y="18.0" width="5" height="3" fill="#f4f8ff"/><rect x="449.5" y="15.5" width="1.2" height="1.2" fill="#e0ecff"/>
<rect class="ce" x="465" y="3" width="1" height="21" fill="#a0a0a0"/><rect class="ce" x="466" y="3" width="1" height="21" fill="#fdfdfd"/>
<rect x="470" y="2" width="25" height="22" fill="#f8f8f8"/>
<rect class="ce" x="470" y="2" width="25" height="1" fill="#a8a8a8"/><rect class="ce" x="470" y="2" width="1" height="22" fill="#a8a8a8"/>
<g class="ce" fill="#555"><rect x="478" y="8" width="1" height="14"/><rect x="476" y="19" width="14" height="1"/></g>
<path d="M477 10L478.5 7.8L480 10M487.5 18L489.7 19.5L487.5 21" fill="none" stroke="#555" stroke-width="0.9"/>
<path d="M483 10.2L487 13.2L483 16.2Z" fill="none" stroke="#1aa01a" stroke-width="1.2"/>
<rect x="498" y="2" width="25" height="22" fill="#f8f8f8"/>
<rect class="ce" x="498" y="2" width="25" height="1" fill="#a8a8a8"/><rect class="ce" x="498" y="2" width="1" height="22" fill="#a8a8a8"/>
<g class="ce" fill="#555"><rect x="506" y="8" width="1" height="14"/><rect x="504" y="19" width="14" height="1"/></g>
<path d="M505 10L506.5 7.8L508 10M515.5 18L517.7 19.5L515.5 21" fill="none" stroke="#555" stroke-width="0.9"/>
<path d="M512.5 8V17" stroke="#2a6ac8" stroke-width="1.3"/><path d="M517.5 12.5H513.5M515.5 10.5L513.5 12.5L515.5 14.5" stroke="#e04a1a" stroke-width="1.2" fill="none"/>
<rect class="ce" x="527" y="3" width="1" height="21" fill="#a0a0a0"/><rect class="ce" x="528" y="3" width="1" height="21" fill="#fdfdfd"/>
<path d="M537.5 6.5H544L547 9.5V19.5H537.5Z" fill="#fdfdfd" stroke="#8a8a8a" stroke-width="1"/><path d="M540 9.5V15.5M540 10H542" stroke="#555" stroke-width="0.9" fill="none"/>
<path d="M545 12H548.5V15.8H552.5V19.3H548.5V23H545V19.3H541V15.8H545Z" fill="#22c322" stroke="#0a8a0a" stroke-width="0.7"/>
<polygon points="559,13 565,13 562,16.2" fill="#000"/>
<circle cx="583" cy="14" r="8" fill="#2a6ad0"/><circle cx="583" cy="14" r="5.2" fill="url(#clk)"/><path d="M583 10.5V14.3H586" stroke="#404040" stroke-width="1.1" fill="none"/>
<polygon points="598,13 604,13 601,16.2" fill="#000"/>
<rect x="614.5" y="7.5" width="15" height="13" fill="#fbfdff" stroke="#3a78d8" stroke-width="1.2"/><rect x="614" y="7" width="16" height="2.4" fill="#3a78d8"/><path d="M616 13L619 12L621.5 12.8L624 11.5L628 11.3" stroke="#c02a1a" stroke-width="1.1" fill="none"/><path d="M616 18L619 16.5L621 17.8L624 16L627.5 17.5" stroke="#1a9a2a" stroke-width="1.1" fill="none"/><path d="M615 14.5H629" stroke="#9ab8e8" stroke-width="0.7"/>
<polygon points="637,13 643,13 640,16.2" fill="#000"/>
<rect class="ce" x="648" y="2" width="1" height="24" fill="#a0a0a0"/><rect class="ce" x="649" y="2" width="1" height="24" fill="#fdfdfd"/>
<g class="ce" fill="#b4b4b4"><rect x="652" y="4" width="3" height="1"/><rect x="652" y="6" width="3" height="1"/><rect x="652" y="8" width="3" height="1"/><rect x="652" y="10" width="3" height="1"/><rect x="652" y="12" width="3" height="1"/><rect x="652" y="14" width="3" height="1"/><rect x="652" y="16" width="3" height="1"/><rect x="652" y="18" width="3" height="1"/><rect x="652" y="20" width="3" height="1"/><rect x="652" y="22" width="3" height="1"/></g>
<rect x="658" y="2" width="25" height="22" fill="#f8f8f8"/>
<rect class="ce" x="658" y="2" width="25" height="1" fill="#a8a8a8"/><rect class="ce" x="658" y="2" width="1" height="22" fill="#a8a8a8"/>
<path d="M666 7.5V19.5L668.8 16.8L671 21.5L672.8 20.7L670.7 16.2H674.5Z" fill="#222"/>
<path d="M698.5 7.5V21.5M691 14.5H706" stroke="#333" stroke-width="1"/>
<rect class="ce" x="715" y="3" width="1" height="21" fill="#a0a0a0"/><rect class="ce" x="716" y="3" width="1" height="21" fill="#fdfdfd"/>
<rect class="ce" x="732" y="9" width="1" height="11" fill="#333"/>
<rect class="ce" x="755" y="14" width="12" height="1" fill="#333"/>
<path d="M783 21L795 9" stroke="#444" stroke-width="1.1"/>
<path d="M809 19L822 8M811 21L824 11" stroke="#444" stroke-width="1"/><path d="M812.5 12L811.5 20M816 9.5L815 18M819.5 7L818.5 16" stroke="#444" stroke-width="0.9"/>
<text x="820.5" y="22.5" font-size="6.5" fill="#222" font-weight="bold">E</text>
<g stroke="#444" stroke-width="1" stroke-dasharray="1 1"><path d="M838 7.5H851.5M838 11.5H851.5M838 15.5H851.5M838 18.5H847"/></g>
<text x="848" y="22.5" font-size="6.5" fill="#222" font-weight="bold">F</text>
<text x="868.5" y="19" font-size="12.5" fill="#444" font-weight="bold">A</text>
<rect x="895.5" y="8.5" width="11" height="12" fill="none" stroke="#444" stroke-width="1" stroke-dasharray="1 1"/>
<text x="896.8" y="19.2" font-size="11.5" fill="#444" font-weight="bold">T</text>
<path d="M924.5 8L927.5 11L924.5 13.5L921.8 11Z" fill="#333"/><path d="M933.5 16L936.8 19L933.5 21.5L930.5 19Z" fill="#333"/><path d="M925.5 15.5L927.5 17.8L931.5 12.5" stroke="#333" stroke-width="1.5" fill="none"/>
<polygon points="942,13 948,13 945,16.2" fill="#000"/>
<rect class="ce" x="954" y="2" width="1" height="24" fill="#a0a0a0"/><rect class="ce" x="955" y="2" width="1" height="24" fill="#fdfdfd"/>
<g class="ce" fill="#b4b4b4"><rect x="958" y="4" width="3" height="1"/><rect x="958" y="6" width="3" height="1"/><rect x="958" y="8" width="3" height="1"/><rect x="958" y="10" width="3" height="1"/><rect x="958" y="12" width="3" height="1"/><rect x="958" y="14" width="3" height="1"/><rect x="958" y="16" width="3" height="1"/><rect x="958" y="18" width="3" height="1"/><rect x="958" y="20" width="3" height="1"/><rect x="958" y="22" width="3" height="1"/></g>
<rect x="1132" y="3" width="25" height="21" fill="#f8f8f8"/>
<rect class="ce" x="1132" y="3" width="25" height="1" fill="#a8a8a8"/><rect class="ce" x="1132" y="3" width="1" height="21" fill="#a8a8a8"/>
<text x="969.8" y="18" font-size="9.5" fill="#333" textLength="12.8" lengthAdjust="spacingAndGlyphs">M1</text>
<text x="997" y="18" font-size="9.5" fill="#333" textLength="13" lengthAdjust="spacingAndGlyphs">M5</text>
<text x="1023.2" y="18" font-size="9.5" fill="#333" textLength="17.8" lengthAdjust="spacingAndGlyphs">M15</text>
<text x="1051.6" y="18" font-size="9.5" fill="#333" textLength="18" lengthAdjust="spacingAndGlyphs">M30</text>
<text x="1082.4" y="18" font-size="9.5" fill="#333" textLength="12" lengthAdjust="spacingAndGlyphs">H1</text>
<text x="1109.8" y="18" font-size="9.5" fill="#333" textLength="12" lengthAdjust="spacingAndGlyphs">H4</text>
<text x="1138" y="18" font-size="9.5" fill="#333" textLength="12" lengthAdjust="spacingAndGlyphs">D1</text>
<text x="1166.2" y="18" font-size="9.5" fill="#333" textLength="13.8" lengthAdjust="spacingAndGlyphs">W1</text>
<text x="1192.3" y="18" font-size="9.5" fill="#333" textLength="15" lengthAdjust="spacingAndGlyphs">MN</text>
<rect class="ce" x="1215" y="2" width="1" height="24" fill="#a0a0a0"/><rect class="ce" x="1216" y="2" width="1" height="24" fill="#fdfdfd"/>
<circle cx="1686.5" cy="11.5" r="4" fill="#f4f8ff" stroke="#2a5fc8" stroke-width="1.3"/><path d="M1683.5 14.8L1678.5 19.5" stroke="#2a5fc8" stroke-width="2" stroke-linecap="round"/>
<ellipse cx="1717.5" cy="11.5" rx="6.5" ry="4.8" fill="#f6f6f8" stroke="#9a9aa2" stroke-width="0.9"/><path d="M1719 15.5L1721.5 18.5L1722 15Z" fill="#e4e4e8" stroke="#9a9aa2" stroke-width="0.6"/><ellipse cx="1710" cy="15.5" rx="5.5" ry="4" fill="#fafafc" stroke="#8a8a92" stroke-width="0.9"/><path d="M1707 18.5L1706 21.5L1709.5 19.2Z" fill="#f0f0f4" stroke="#8a8a92" stroke-width="0.6"/>
</g>
</svg></body></html>
